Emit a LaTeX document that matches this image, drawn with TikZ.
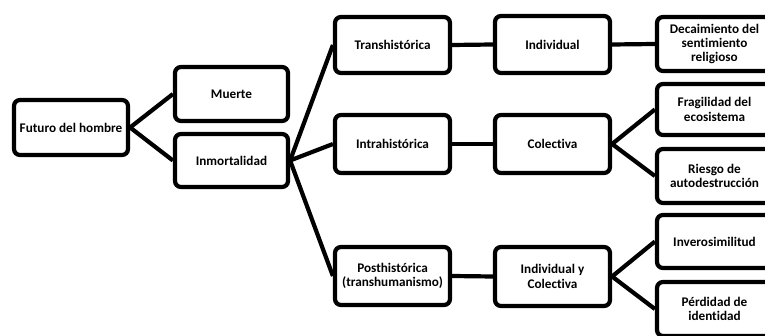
\documentclass[tikz,border=0pt]{standalone}
\usepackage{fontspec}
\setmainfont{Carlito}[Ligatures=NoCommon]
\begin{document}
\begin{tikzpicture}[x=1pt,y=-1pt,
  box/.style={draw=black,line width=4.2pt,rounded corners=6pt,fill=white,
    align=center,inner sep=0pt,font=\bfseries\fontsize{13.2}{14.3}\selectfont},
  link/.style={line width=4.2pt}]
\useasboundingbox (0,0) rectangle (765,336);
\clip (0,0) rectangle (765,336);
% nodes
\node[box,minimum width=114pt,minimum height=55pt] (fut) at (71,127.5) {Futuro del hombre};
\node[box,minimum width=113pt,minimum height=54pt] (mue) at (231.5,94) {Muerte};
\node[box,minimum width=113pt,minimum height=53pt] (inm) at (231.5,160.5) {Inmortalidad};
\node[box,minimum width=115pt,minimum height=56pt] (tra) at (392.5,45) {Transhistórica};
\node[box,minimum width=115pt,minimum height=58pt] (int) at (392.5,144) {Intrahistórica};
\node[box,minimum width=115pt,minimum height=58pt] (pos) at (392.5,276) {Posthistórica\\(transhumanismo)};
\node[box,minimum width=115pt,minimum height=57pt] (ind) at (552.5,44.5) {Individual};
\node[box,minimum width=115pt,minimum height=58pt] (col) at (552.5,144) {Colectiva};
\node[box,minimum width=115pt,minimum height=59pt] (iyc) at (552.5,276.5) {Individual y\\Colectiva};
\node[box,minimum width=115pt,minimum height=54pt] (dec) at (714.5,44) {Decaimiento del\\sentimiento\\religioso};
\node[box,minimum width=115pt,minimum height=51pt] (fra) at (714.5,109.5) {Fragilidad del\\ecosistema};
\node[box,minimum width=115pt,minimum height=54pt] (rie) at (714.5,176) {Riesgo de\\autodestrucción};
\node[box,minimum width=115pt,minimum height=53pt] (inv) at (714.5,241.5) {Inverosimilitud};
\node[box,minimum width=115pt,minimum height=54pt] (per) at (714.5,309) {Pérdidad de\\identidad};
% connectors
\draw[link] (fut.east) -- (mue.west);
\draw[link] (fut.east) -- (inm.west);
\draw[link] (inm.east) -- (tra.west);
\draw[link] (inm.east) -- (int.west);
\draw[link] (inm.east) -- (pos.west);
\draw[link] (tra.east) -- (ind.west);
\draw[link] (int.east) -- (col.west);
\draw[link] (pos.east) -- (iyc.west);
\draw[link] (ind.east) -- (dec.west);
\draw[link] (col.east) -- (fra.west);
\draw[link] (col.east) -- (rie.west);
\draw[link] (iyc.east) -- (inv.west);
\draw[link] (iyc.east) -- (per.west);
\end{tikzpicture}
\end{document}
